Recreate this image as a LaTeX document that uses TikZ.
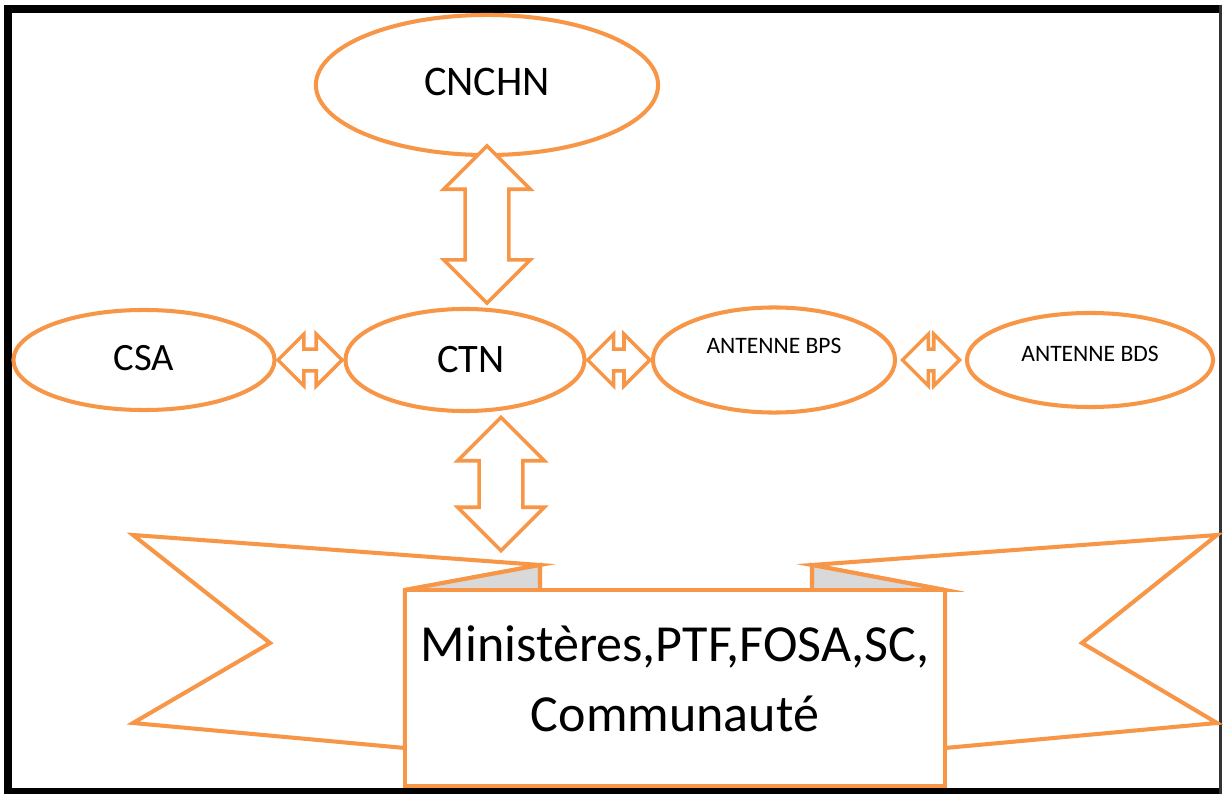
\documentclass[tikz,border=0pt]{standalone}
\usepackage{fontspec}
\setmainfont{Carlito}
\usepackage{tikz}
\usepackage{xcolor}
\usetikzlibrary{shapes.geometric,shapes.arrows,calc}
\definecolor{accent-orange}{HTML}{F79646}
\definecolor{fold-gray}{HTML}{D9D9D9}
\tikzset{
    oval/.style = {draw=accent-orange, fill=white, ellipse, line width=1.15pt, inner sep=0pt},
    antenne-font/.style = {font=\fontsize{6.7}{8}\selectfont},
    h-link/.style = {draw=accent-orange, fill=white, double arrow, line width=1pt, inner xsep=0pt, inner ysep=0.09cm, double arrow head extend=0.15cm},
    v-link/.style = {draw=accent-orange, fill=white, double arrow, line width=1pt, inner xsep=0pt, inner ysep=0.2cm, double arrow head extend=0.215cm, rotate=90},
    ribbon/.style = {draw=accent-orange, fill=white, line width=1.15pt, line join=miter},
    ribbon-fold/.style = {draw=accent-orange, fill=fold-gray, line width=1.15pt},
}

\begin{document}
\begin{tikzpicture}[x=0.01cm, y=-0.01cm]
\useasboundingbox (0,0) rectangle (1224,794);
\fill[black] (4,5) rectangle (1221,13);
\fill[black] (4,5) rectangle (12,794);
\fill[black] (4,788) rectangle (1221,794);
\fill[black!80] (1219,5) rectangle (1222,794);

\node[oval, minimum width=3.42cm, minimum height=1.40cm, font=\fontsize{12}{14}\selectfont] (cnchn) at (487,85) {\raisebox{0.06cm}{CNCHN}};
\node[oval, minimum width=2.61cm, minimum height=1.00cm, font=\fontsize{11}{13}\selectfont] (csa) at (144,360) {\raisebox{0.035cm}{CSA}};
\node[oval, minimum width=2.39cm, minimum height=1.02cm, font=\fontsize{11.5}{13}\selectfont] (ctn) at (465,360) {\hspace{0.12cm}CTN};
\node[oval, minimum width=2.42cm, minimum height=1.05cm, label={[antenne-font, yshift=0.14cm]center:ANTENNE BPS}] (bps) at (774,360) {};
\node[oval, minimum width=2.46cm, minimum height=0.94cm, label={[antenne-font, yshift=0.065cm]center:ANTENNE BDS}] (bds) at (1090,360) {};

\node[v-link, minimum height=1.57cm] (cnchn-ctn) at ($(cnchn.south)!0.45!(ctn.north -| cnchn.south)$) {};
\node[h-link, minimum height=0.64cm] (csa-ctn) at ($(csa.east)!0.5!(ctn.west)$) {};
\node[h-link, minimum height=0.62cm] (ctn-bps) at ($(ctn.east)!0.5!(bps.west)$) {};
\node[h-link, minimum height=0.57cm] (bps-bds) at ($(bps.east)!0.5!(bds.west)$) {};
\node[v-link, minimum height=1.33cm] (ctn-acteurs) at (501,484) {};

\draw[ribbon] (540,565) -- (133,535) -- (270,643) -- (133,723) -- (405,748) -- (405,590) -- cycle;
\draw[ribbon] (812,565) -- (1217,535) -- (1082,643) -- (1217,723) -- (945,748) -- (945,590) -- cycle;
\draw[ribbon-fold] (405,590) -- (540,565) -- (540,592) -- cycle;
\draw[ribbon-fold] (945,590) -- (812,565) -- (812,592) -- cycle;
\node[ribbon, minimum width=5.40cm, minimum height=1.96cm, label={[align=center, font=\fontsize{14.8}{19.9}\selectfont, yshift=0.09cm]center:{Ministères,PTF,FOSA,SC,\\Communauté}}] (acteurs) at (675,688) {};
\end{tikzpicture}
\end{document}
